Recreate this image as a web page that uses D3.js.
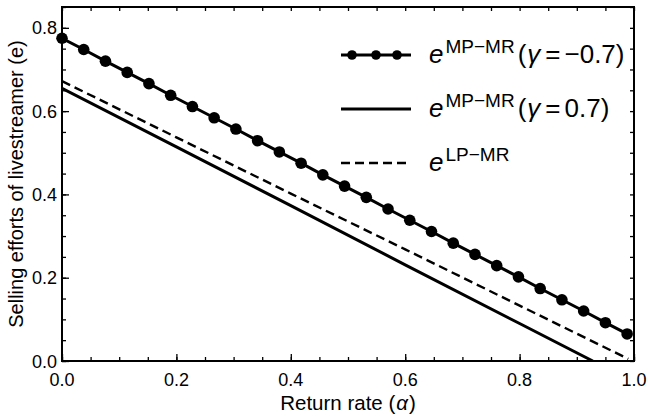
<!DOCTYPE html>
<html>
<head>
<meta charset="utf-8">
<script src="https://cdn.jsdelivr.net/npm/d3@7"></script>
<style>
  body { margin: 0; background: #fff; }
  svg { font-family: "Liberation Sans", Arial, sans-serif; }
</style>
</head>
<body>
<div id="chart"></div>
<script>
// return rate (alpha) sample points for the marked series
const alphaMarked = [0, 0.038, 0.076, 0.114, 0.152, 0.19, 0.228, 0.266, 0.304, 0.342,
  0.38, 0.418, 0.456, 0.494, 0.532, 0.57, 0.608, 0.646, 0.684, 0.722,
  0.76, 0.798, 0.836, 0.874, 0.912, 0.95, 0.988];
// e^{MP-MR} (gamma = -0.7)
const eMPneg = [0.775, 0.748, 0.720, 0.693, 0.666, 0.638, 0.611, 0.584, 0.557, 0.529,
  0.502, 0.475, 0.447, 0.420, 0.393, 0.365, 0.338, 0.311, 0.283, 0.256,
  0.229, 0.202, 0.174, 0.147, 0.120, 0.092, 0.065];

// e^{MP-MR} (gamma = 0.7)
const alphaPos = [0, 0.2, 0.4, 0.6, 0.8, 0.928];
const eMPpos = [0.655, 0.514, 0.373, 0.231, 0.090, 0.0];

// e^{LP-MR}
const alphaLP = [0, 0.2, 0.4, 0.6, 0.8, 0.99];
const eLP = [0.672, 0.537, 0.402, 0.268, 0.133, 0.005];

const xTicks = [0, 0.2, 0.4, 0.6, 0.8, 1.0];
const yTicks = [0, 0.2, 0.4, 0.6, 0.8];

const W = 648, H = 417;
const margin = {top: 7, right: 14, bottom: 56, left: 62};

const svg = d3.select("#chart").append("svg")
    .attr("width", W).attr("height", H);

const x = d3.scaleLinear().domain([0, 1]).range([margin.left, W - margin.right]);
const y = d3.scaleLinear().domain([0, 0.85]).range([H - margin.bottom, margin.top]);

const minorX = d3.range(0, 1.0001, 0.05);
const minorY = d3.range(0, 0.8501, 0.05);

// ticks (inward, on all four sides)
function tickAxis(axisFn, scale, vals, size, transform) {
  const g = svg.append("g")
      .attr("transform", transform)
      .call(axisFn(scale).tickValues(vals).tickSize(-size).tickFormat(""));
  g.select(".domain").remove();
  g.selectAll("line").attr("stroke", "#000").attr("stroke-width", 1.3);
  return g;
}
const bottomY = H - margin.bottom, topY = margin.top;
const leftX = margin.left, rightX = W - margin.right;

tickAxis(d3.axisBottom, x, minorX, 4, `translate(0,${bottomY})`);
tickAxis(d3.axisBottom, x, xTicks, 7, `translate(0,${bottomY})`);
tickAxis(d3.axisTop, x, minorX, 4, `translate(0,${topY})`);
tickAxis(d3.axisLeft, y, minorY, 4, `translate(${leftX},0)`);
tickAxis(d3.axisLeft, y, yTicks, 7, `translate(${leftX},0)`);
tickAxis(d3.axisRight, y, minorY, 4, `translate(${rightX},0)`);

// tick labels
svg.append("g").selectAll("text").data(xTicks).join("text")
    .attr("x", d => x(d)).attr("y", bottomY + 25)
    .attr("text-anchor", "middle").attr("font-size", 18)
    .text(d => d3.format(".1f")(d));
svg.append("g").selectAll("text").data(yTicks).join("text")
    .attr("x", leftX - 5).attr("y", d => y(d) + 6.5)
    .attr("text-anchor", "end").attr("font-size", 18)
    .text(d => d3.format(".1f")(d));

// axis titles
const xt = svg.append("text")
    .attr("x", (leftX + rightX) / 2).attr("y", H - 7)
    .attr("text-anchor", "middle").attr("font-size", 20.5);
xt.append("tspan").text("Return rate (");
xt.append("tspan").attr("font-style", "italic").attr("dx", 1).text("α");
xt.append("tspan").attr("dx", 1).text(")");

svg.append("text")
    .attr("transform", `translate(23,${(topY + bottomY) / 2}) rotate(-90)`)
    .attr("text-anchor", "middle").attr("font-size", 20)
    .text("Selling efforts of livestreamer (e)");

// clip to plot area
svg.append("clipPath").attr("id", "clip").append("rect")
    .attr("x", leftX).attr("y", topY)
    .attr("width", rightX - leftX).attr("height", bottomY - topY);

const line = d3.line().x(d => x(d[0])).y(d => y(d[1]));
const plot = svg.append("g").attr("clip-path", "url(#clip)");

plot.append("path")
    .datum(d3.zip(alphaPos, eMPpos))
    .attr("d", line).attr("fill", "none")
    .attr("stroke", "#000").attr("stroke-width", 3);

plot.append("path")
    .datum(d3.zip(alphaLP, eLP))
    .attr("d", line).attr("fill", "none")
    .attr("stroke", "#000").attr("stroke-width", 2.4)
    .attr("stroke-dasharray", "9,5");

plot.append("path")
    .datum(d3.zip(alphaMarked, eMPneg))
    .attr("d", line).attr("fill", "none")
    .attr("stroke", "#000").attr("stroke-width", 3);

svg.append("g").selectAll("circle")
  .data(d3.zip(alphaMarked, eMPneg)).join("circle")
    .attr("cx", d => x(d[0])).attr("cy", d => y(d[1]))
    .attr("r", 5.8).attr("fill", "#000");

// frame
svg.append("rect")
    .attr("x", leftX).attr("y", topY)
    .attr("width", rightX - leftX).attr("height", bottomY - topY)
    .attr("fill", "none").attr("stroke", "#000").attr("stroke-width", 2);

// legend
const legend = [
  {sup: "MP−MR", arg: ["γ", "−0.7"], dash: null, marks: true},
  {sup: "MP−MR", arg: ["γ", "0.7"], dash: null, marks: false},
  {sup: "LP−MR", arg: null, dash: "9,5", marks: false}
];
const lg = svg.append("g").selectAll("g").data(legend).join("g")
    .attr("transform", (d, i) => `translate(341,${55 + i * 54})`);
lg.append("line")
    .attr("x1", 0).attr("x2", 70).attr("y1", 0).attr("y2", 0)
    .attr("stroke", "#000")
    .attr("stroke-width", d => d.dash ? 2.4 : 3)
    .attr("stroke-dasharray", d => d.dash);
lg.filter(d => d.marks).selectAll("circle").data([11, 35, 56]).join("circle")
    .attr("cx", d => d).attr("cy", 0).attr("r", 4.8).attr("fill", "#000");
const lt = lg.append("text").attr("x", 88).attr("y", 8).attr("font-size", 26);
lt.append("tspan").attr("font-style", "italic").text("e");
lt.append("tspan").attr("font-size", 19).attr("dx", 2).attr("dy", -10).text(d => d.sup);
const args = lt.filter(d => d.arg);
args.append("tspan").attr("dx", 3).attr("dy", 10).text("(");
args.append("tspan").attr("font-style", "italic").attr("dx", 1).text(d => d.arg[0]);
args.append("tspan").attr("dx", 5).text("=");
args.append("tspan").attr("dx", 4).text(d => d.arg[1] + ")");
</script>
</body>
</html>
